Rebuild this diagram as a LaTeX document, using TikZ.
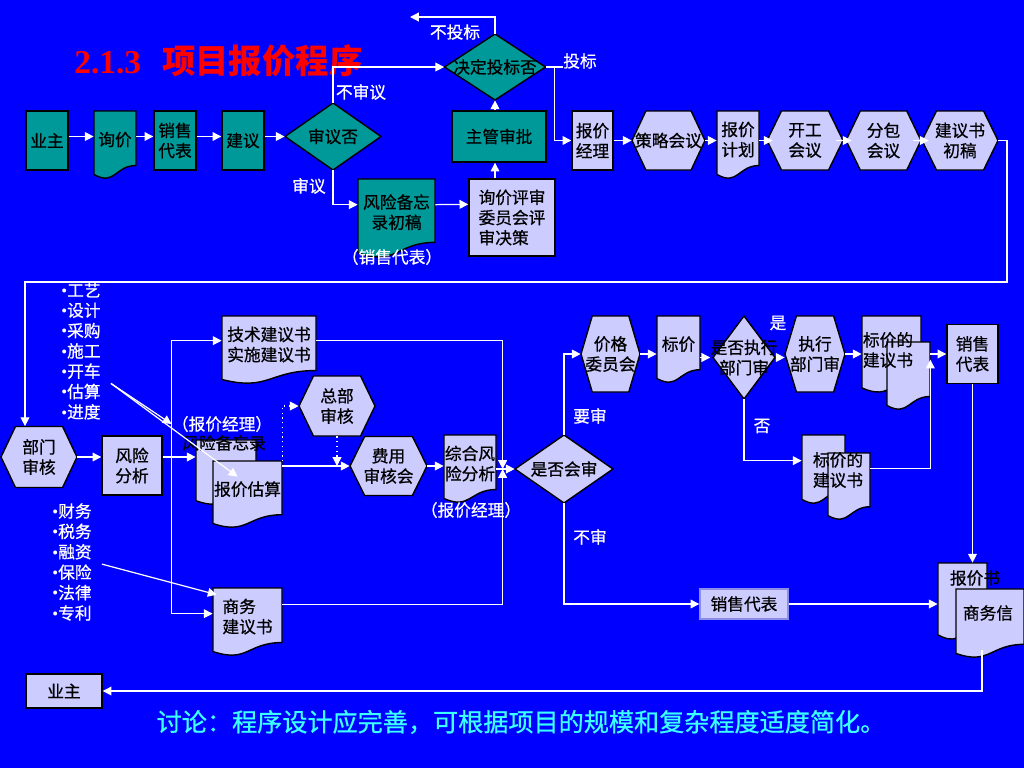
\documentclass[tikz,border=0pt]{standalone}
\usepackage{fontspec}
\setmainfont{Noto Sans CJK SC}
\newfontfamily\heiti{Noto Sans CJK SC}[FakeBold=0.7]
\newfontfamily\titlefont{Liberation Serif}
\usetikzlibrary{arrows.meta,calc}

\definecolor{bgblue}{RGB}{0,0,255}
\definecolor{qing}{RGB}{0,153,153}
\definecolor{lan}{RGB}{204,204,255}
\definecolor{lanbian}{RGB}{140,140,235}
\definecolor{qianqing}{RGB}{60,255,255}

% hexagon: name, cx, cy, w, h, text
\newcommand{\hexa}[6]{%
  \filldraw[shapeline, fill=lan] ({#2-#4/2},#3) -- ({#2-#4/2+0.19*#4},{#3-#5/2}) -- ({#2+#4/2-0.19*#4},{#3-#5/2})
    -- ({#2+#4/2},#3) -- ({#2+#4/2-0.19*#4},{#3+#5/2}) -- ({#2-#4/2+0.19*#4},{#3+#5/2}) -- cycle;
  \node[txt, wh={#4}{#5}] (#1) at (#2,#3) {#6};}
% diamond: fill, name, cx, cy, w, h, text
\newcommand{\dia}[7]{%
  \filldraw[shapeline, fill=#1] ({#3-#5/2},#4) -- (#3,{#4-#6/2}) -- ({#3+#5/2},#4) -- (#3,{#4+#6/2}) -- cycle;
  \node[txt, wh={#5}{#6}] (#2) at (#3,#4) {#7};}
% document: fill, name, x1, y1, x2, y2, text
\newcommand{\docu}[7]{%
  \filldraw[shapeline, fill=#1] (#3,#4) -- (#5,#4) -- (#5,{#4+0.802*(#6-#4)})
    .. controls ({(#3+#5)/2},{#4+0.802*(#6-#4)}) and ({(#3+#5)/2},{#4+1.107*(#6-#4)}) .. (#3,{#4+0.934*(#6-#4)}) -- cycle;
  \node[inner sep=0pt, wh={#5-#3}{#6-#4}] (#2) at ({(#3+#5)/2},{(#4+#6)/2}) {};
  \if\relax\detokenize{#7}\relax\else
  \node[txt] (#2-t) at ({(#3+#5)/2},{#4+0.42*(#6-#4)}) {#7};\fi}
\newcommand{\bdot}{{\titlefont\textbullet}}

\begin{document}
\begin{tikzpicture}[x=0.02cm, y=-0.02cm,
    shapeline/.style={draw=black, line width=0.8pt},
    txt/.style={font=\heiti\fontsize{9.5}{11.5}\selectfont, align=center, inner sep=0pt, text=black},
    wh/.style 2 args={minimum width={(#1)*0.02cm}, minimum height={(#2)*0.02cm}},
    qingbox/.style={txt, shapeline, fill=qing},
    lanbox/.style={txt, shapeline, fill=lan},
    lbl/.style={font=\heiti\fontsize{9.5}{11.5}\selectfont, text=white, inner sep=0pt},
    wline/.style={draw=white, line width=0.7pt},
    arr/.style={wline, -{Triangle[length=5pt,width=5pt]}},
    dotarr/.style={arr, dotted}]
  \useasboundingbox (0,0) rectangle (1024,768);
  \fill[bgblue] (0,0) rectangle (1024,768);

  \node[anchor=west, inner sep=0pt, text=red, font=\fontsize{19}{22}\selectfont\bfseries] (biaoti) at (74,61)
    {{\titlefont 2.1.3}\hspace{12pt}项目报价程序};

  % first row
  \node[qingbox, wh={42}{59}] (yezhu) at (47,140.5) {业主};
  \docu{qing}{xunjia}{94}{111}{136}{179}{询价}
  \node[qingbox, wh={42}{59}] (xiaoshou) at (175,140.5) {销售\\代表};
  \node[qingbox, wh={42}{59}] (jianyi) at (243,140.5) {建议};
  \dia{qing}{shenyi}{333}{136.5}{96}{67}{审议否}
  \docu{qing}{fxbwcg}{358}{179}{435}{258}{风险备忘\\录初稿}
  \node[lanbox, wh={86}{77}, align=left] (xjps) at (512,217.5) {询价评审\\委员会评\\审决策};
  \node[qingbox, wh={94}{51}] (zhuguan) at (499,136.5) {主管审批};
  \dia{qing}{jueding}{495}{67}{101}{66}{决定投标否}
  \node[lanbox, wh={41}{59}] (bjjl) at (592.5,140.5) {报价\\经理};
  \hexa{celue}{668.5}{140.5}{73}{59}{策略会议}
  \docu{lan}{bjjh}{717}{111}{759}{179}{报价\\计划}
  \hexa{kaigong}{805}{140.5}{76}{59}{开工\\会议}
  \hexa{fenbao}{883.5}{140.5}{75}{59}{分包\\会议}
  \hexa{jysgc}{960}{140.5}{76}{59}{建议书\\初稿}

  \node[lbl] (bsy) at (361,92) {不审议};
  \node[lbl] (sy) at (309,186) {审议};
  \node[lbl] (xsdb) at (392,257) {（销售代表）};
  \node[lbl] (btb) at (455,32) {不投标};
  \node[lbl] (tb) at (580,61) {投标};
  \coordinate (notb) at (410,17);
  \coordinate (turn) at (1007,282);

  \draw[arr] (yezhu.east |- shenyi.west) -- (xunjia.west |- shenyi.west);
  \draw[arr] (xunjia.east |- shenyi.west) -- (xiaoshou.west |- shenyi.west);
  \draw[arr] (xiaoshou.east |- shenyi.west) -- (jianyi.west |- shenyi.west);
  \draw[arr] (jianyi.east |- shenyi.west) -- (shenyi.west);
  \draw[arr] (shenyi.north) |- (jueding.west);
  \draw[arr] (shenyi.south) |- ($(fxbwcg.north west)+(0,26)$);
  \draw[arr] ($(fxbwcg.north east)+(0,26)$) -- ($(xjps.north west)+(0,26)$);
  \draw[arr] (xjps.north -| jueding.south) -- (zhuguan.south -| jueding.south);
  \draw[arr] (zhuguan.north -| jueding.south) -- (jueding.south);
  \draw[arr] (jueding.north) |- (notb);
  \draw[wline] (jueding.east) -- ++(17,0);
  \draw[arr] ($(jueding.east)+(9,0)$) |- (bjjl.west);
  \draw[arr] (bjjl.east) -- (celue.west);
  \draw[arr] (celue.east) -- (celue.east -| bjjh.west);
  \draw[arr] (bjjh.east |- kaigong.west) -- ($(kaigong.west)+(6,0)$);
  \draw[arr] ($(kaigong.east)+(-7,0)$) -- ($(fenbao.west)+(6,0)$);
  \draw[arr] ($(fenbao.east)+(-8,0)$) -- ($(jysgc.west)+(7,0)$);

  % second row
  \hexa{bumen}{39}{457}{76}{61}{部门\\审核}
  \node[lanbox, wh={60}{59}] (fxfx) at (132,465.5) {风险\\分析};
  \docu{lan}{fxbw}{196}{440}{256}{505}{}
  \docu{lan}{bjgs}{213}{461}{282}{528}{报价估算}
  \node[lbl] (bjjl1) at (222,424) {（报价经理）};
  \node[txt] (fxbwl) at (224,443) {风险备忘录};
  \docu{lan}{jsjys}{222}{316}{316}{384}{技术建议书\\实施建议书}
  \docu{lan}{swjys}{213}{588}{282}{656}{商务\phantom{书}\\建议书}
  \hexa{zongbu}{337}{406}{76}{60}{总部\\审核}
  \hexa{feiyong}{388.5}{466}{77}{59}{费用\\审核会}
  \docu{lan}{zhfx}{444}{435}{496}{503}{综合风\\险分析}
  \node[lbl] (bjjl2) at (471,510) {（报价经理）};
  \dia{lan}{shifou}{564}{469}{98}{68}{是否会审}

  \foreach \t [count=\i] in {工艺,设计,采购,施工,开车,估算,进度}
    \node[lbl, anchor=west] (g\i) at (61,{290+20.3*(\i-1)}) {\bdot\t};
  \foreach \t [count=\i] in {财务,税务,融资,保险,法律,专利}
    \node[lbl, anchor=west] (c\i) at (52,{511+20.4*(\i-1)}) {\bdot\t};

  \draw[arr] (jysgc.east) -| (turn) -| ($(bumen.north)+(-14,0)$);
  \coordinate (fork) at ($(fxfx.east |- bumen.east)+(9,0)$);
  \coordinate (hub) at ($(shifou.west)+(-12,0)$);
  \draw[arr] (bumen.east) -- (bumen.east -| fxfx.west);
  \draw[arr] (fxfx.east |- bumen.east) -- (fxbw.west |- bumen.east);
  \draw[arr] (fork) |- ($(jsjys.north west)+(0,25)$);
  \draw[arr] (fork) |- ($(swjys.north west)+(0,26)$);
  \draw[arr] ($(g6.north east)+(10,0)$) -- (bjjl1.west);
  \draw[arr] ($(g6.north east)+(10,0)$) -- ($(bjgs.north)+(-10,16)$);
  \draw[arr] ($(c4.north east)+(10,0)$) -- ($(swjys.north west)+(4,7)$);
  \draw[arr] (bjgs.east |- feiyong.west) -- (feiyong.west);
  \draw[dotarr] (bjgs.east |- feiyong.west) |- (zongbu.west);
  \draw[dotarr] (zongbu.south) -- (zongbu.south |- feiyong.west);
  \draw[arr] (feiyong.east) -- (feiyong.east -| zhfx.west);
  \draw[arr] ($(jsjys.north east)+(0,25)$) -| (hub);
  \draw[arr] ($(swjys.north east)+(0,17)$) -| (hub);
  \draw[arr] (zhfx.east |- shifou.west) -- (shifou.west);

  % right part
  \hexa{jiage}{610.5}{354}{59}{76}{价格\\委员会}
  \docu{lan}{biaojia}{657}{316}{700}{383}{标价}
  \dia{lan}{zhixing}{744}{357.5}{62}{83}{是否执行\\部门审}
  \hexa{zxbm}{815}{354}{60}{76}{执行\\部门审}
  \docu{lan}{bjjys1}{862}{316}{921}{393}{}
  \docu{lan}{bjjys2}{887}{342}{930}{410}{}
  \node[txt] (bjjyst1) at (888,350) {标价的\\建议书};
  \docu{lan}{bjjys3}{802}{435}{845}{504}{}
  \docu{lan}{bjjys4}{828}{453}{870}{520}{}
  \node[txt] (bjjyst2) at (838,470) {标价的\\建议书};
  \node[lanbox, wh={51}{59}] (xiaoshou3) at (972.5,354) {销售\\代表};
  \node[lanbox, draw=lanbian, wh={88}{30}] (xiaoshou2) at (744,604) {销售代表};
  \docu{lan}{bjs}{938}{563}{987}{640}{}
  \docu{lan}{swx}{956}{589}{1024}{658}{}
  \node[txt] (bjst) at (975,578) {报价书};
  \node[txt] (swxt) at (988,613) {商务信};
  \node[lanbox, wh={76}{34}] (yezhu2) at (64,691) {业主};

  \node[lbl] (ys) at (590,416) {要审};
  \node[lbl] (bs) at (590,537) {不审};
  \node[lbl] (shi) at (778,323) {是};
  \node[lbl] (fou) at (762,426) {否};
  \coordinate (hui) at ($(bjjys2.north east)+(0,18)$);

  \draw[arr] (shifou.north) |- (jiage.west);
  \draw[arr] (shifou.south) |- (xiaoshou2.west);
  \draw[arr] (jiage.east) -- (jiage.east -| biaojia.west);
  \draw[arr] (biaojia.east |- zhixing.west) -- (zhixing.west);
  \draw[arr] (zhixing.east) -- (zhixing.east -| zxbm.west);
  \draw[arr] (zxbm.east) -- (zxbm.east -| bjjys1.west);
  \draw[arr] (zhixing.south) |- ($(bjjys3.north west)+(0,26)$);
  \draw[arr] ($(bjjys4.north east)+(0,16)$) -| (hui);
  \draw[arr] (hui |- xiaoshou3.west) -- (xiaoshou3.west);
  \draw[arr] (xiaoshou3.south) -- (xiaoshou3.south |- bjs.north);
  \draw[arr] (xiaoshou2.east) -- (xiaoshou2.east -| bjs.west);
  \draw[arr] ($(swx.south)+(-8,-8)$) |- (yezhu2.east);

  \node[font=\heiti\fontsize{14.3}{17}\selectfont, text=qianqing] (taolun) at (521,722)
    {讨论：程序设计应完善，可根据项目的规模和复杂程度适度简化。};
\end{tikzpicture}
\end{document}
